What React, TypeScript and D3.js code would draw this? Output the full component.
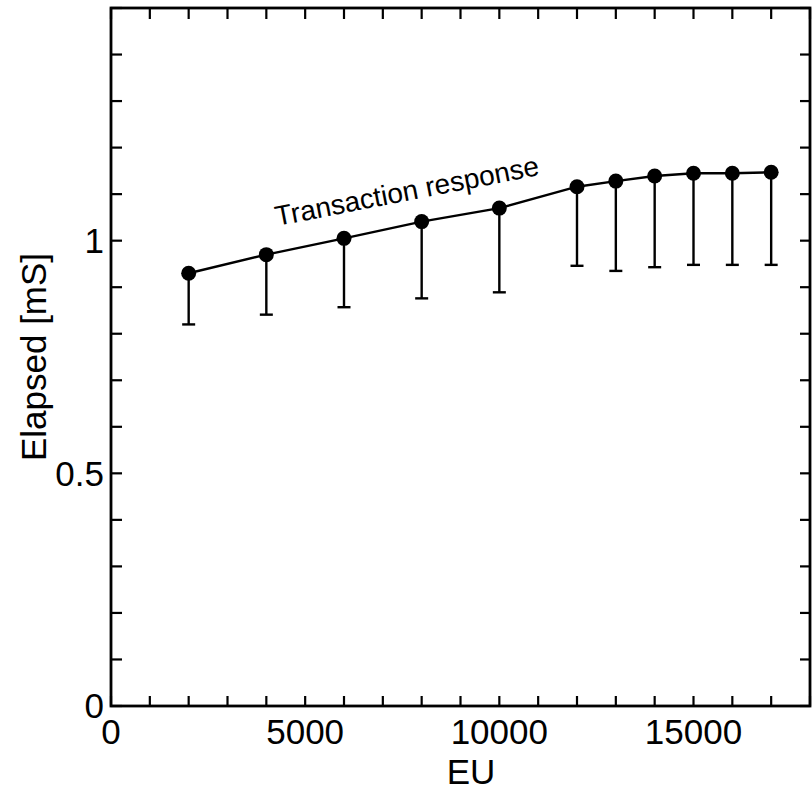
import React from "react";
import * as d3 from "d3";

const eu = [2000, 4000, 6000, 8000, 10000, 12000, 13000, 14000, 15000, 16000, 17000];
const elapsed = [0.930, 0.970, 1.005, 1.041, 1.070, 1.116, 1.128, 1.139, 1.145, 1.145, 1.147];
const lowerBound = [0.820, 0.841, 0.857, 0.876, 0.889, 0.946, 0.935, 0.943, 0.948, 0.948, 0.948];
const xMajorTicks = [0, 5000, 10000, 15000];
const yMajorTicks = [0, 0.5, 1];
const xMinorTicks = d3.range(0, 18001, 1000);
const yMinorTicks = d3.range(0, 1.5001, 0.1);
const seriesLabel = "Transaction response";
const xTitle = "EU";
const yTitle = "Elapsed [mS]";

const W = 812, H = 790;
const L = 111, R = 810, T = 8, B = 706;

export default function App() {
  const x = d3.scaleLinear().domain([0, 18000]).range([L, R]);
  const y = d3.scaleLinear().domain([0, 1.5]).range([B, T]);
  const line = d3.line<number>().x((_, i) => x(eu[i])).y((d) => y(d));
  const font = "'Liberation Sans', Arial, Helvetica, sans-serif";
  const tk = 10;
  return (
    <svg width={W} height={H} style={{ position: "absolute", left: 0, top: 0, background: "#fff" }} fontFamily={font}>
      <rect x={0} y={0} width={W} height={H} fill="#fff" />
      {xMinorTicks.map((t, i) => (
        <g key={"xt" + i} stroke="#000" strokeWidth={2.2}>
          <line x1={x(t)} x2={x(t)} y1={B} y2={B - tk} />
          <line x1={x(t)} x2={x(t)} y1={T} y2={T + tk + 1} />
        </g>
      ))}
      {yMinorTicks.map((t, i) => (
        <g key={"yt" + i} stroke="#000" strokeWidth={2.2}>
          <line x1={L} x2={L + tk + 1} y1={y(t)} y2={y(t)} />
          <line x1={R} x2={R - tk} y1={y(t)} y2={y(t)} />
        </g>
      ))}
      <rect x={L} y={T} width={R - L} height={B - T} fill="none" stroke="#000" strokeWidth={2.8} />
      {xMajorTicks.map((t) => (
        <text key={"xl" + t} x={x(t)} y={744} textAnchor="middle" fontSize={35}>{t}</text>
      ))}
      {yMajorTicks.map((t) => (
        <text key={"yl" + t} x={104} y={y(t)} dy="0.35em" textAnchor="end" fontSize={35}>{t}</text>
      ))}
      <text x={471} y={784} textAnchor="middle" fontSize={35}>{xTitle}</text>
      <text transform={`translate(46,${(T + B) / 2}) rotate(-90)`} textAnchor="middle" fontSize={35}>{yTitle}</text>
      {eu.map((v, i) => (
        <g key={"eb" + i} stroke="#000" strokeWidth={2.4}>
          <line x1={x(v)} x2={x(v)} y1={y(elapsed[i])} y2={y(lowerBound[i])} />
          <line x1={x(v) - 6.5} x2={x(v) + 6.5} y1={y(lowerBound[i])} y2={y(lowerBound[i])} />
        </g>
      ))}
      <path d={line(elapsed) || ""} fill="none" stroke="#000" strokeWidth={2.4} />
      {eu.map((v, i) => (
        <circle key={"pt" + i} cx={x(v)} cy={y(elapsed[i])} r={7.5} fill="#000" />
      ))}
      <text transform={`translate(277,226) rotate(-11)`} fontSize={28}>{seriesLabel}</text>
    </svg>
  );
}
